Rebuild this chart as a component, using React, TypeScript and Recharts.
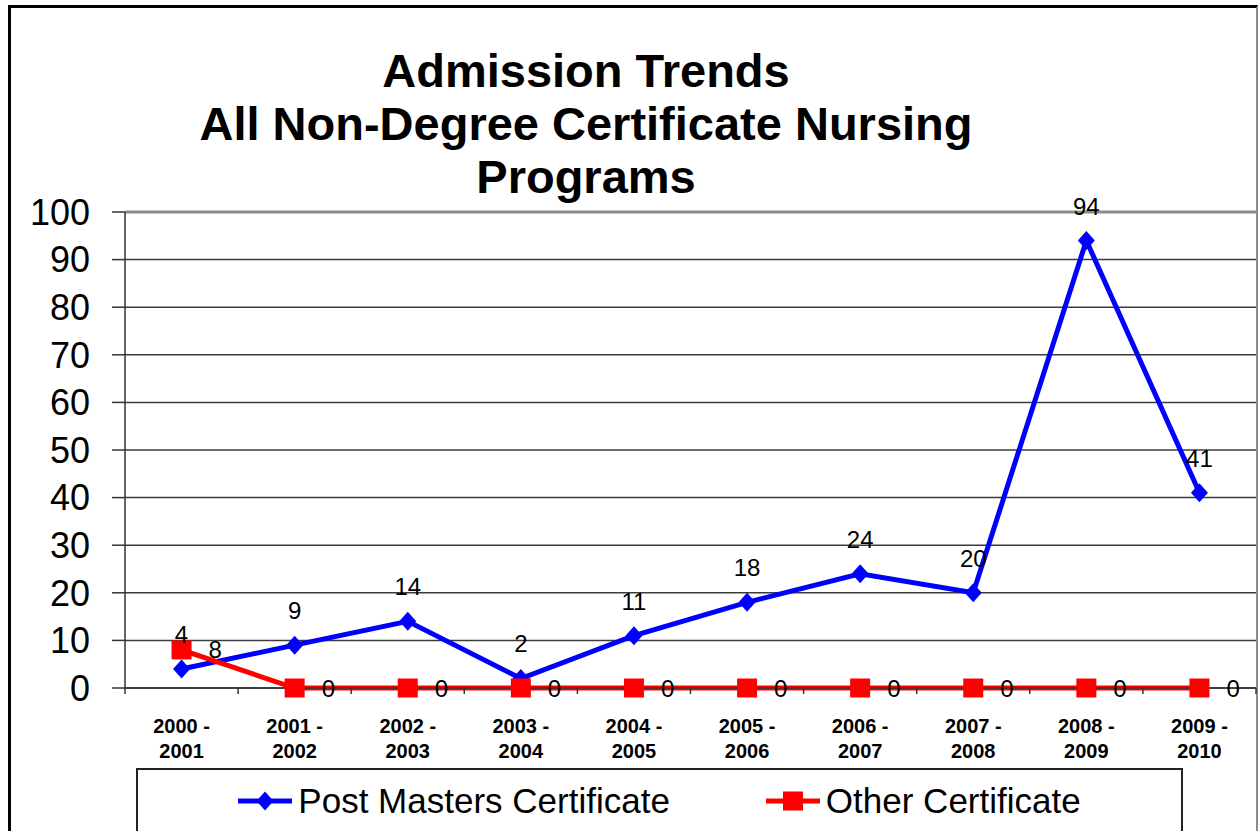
import React from "react";
import {
  LineChart,
  Line,
  XAxis,
  YAxis,
  CartesianGrid,
  Legend,
  LabelList,
  ReferenceLine,
} from "recharts";

const categories = [
  "2000 - 2001",
  "2001 - 2002",
  "2002 - 2003",
  "2003 - 2004",
  "2004 - 2005",
  "2005 - 2006",
  "2006 - 2007",
  "2007 - 2008",
  "2008 - 2009",
  "2009 - 2010",
];
const postMasters = [4, 9, 14, 2, 11, 18, 24, 20, 94, 41];
const otherCert = [8, 0, 0, 0, 0, 0, 0, 0, 0, 0];
const yTicks = [0, 10, 20, 30, 40, 50, 60, 70, 80, 90, 100];
const seriesOrder = ["post", "other"];
const titleLines = [
  "Admission Trends",
  "All Non-Degree Certificate Nursing",
  "Programs",
];

const data = categories.map((c, i) => ({
  cat: c,
  post: postMasters[i],
  other: otherCert[i],
}));

const FONT = '"Liberation Sans", Arial, sans-serif';
const BLUE = "#0000FF";
const RED = "#FF0000";

const Diamond = (props: any) => {
  const { cx, cy } = props;
  if (cx == null || cy == null) return null;
  return (
    <polygon
      points={`${cx},${cy - 9.5} ${cx + 8.5},${cy} ${cx},${cy + 9.5} ${cx - 8.5},${cy}`}
      fill={BLUE}
    />
  );
};

const Square = (props: any) => {
  const { cx, cy } = props;
  if (cx == null || cy == null) return null;
  return <rect x={cx - 10} y={cy - 9.5} width={20} height={19} fill={RED} />;
};

const XTick = (props: any) => {
  const { x, y, payload, width, visibleTicksCount, index } = props;
  const band = width / visibleTicksCount;
  const parts = String(payload.value).split(" - ");
  return (
    <g>
      <line x1={x - band / 2} x2={x - band / 2} y1={y} y2={y + 6} stroke="#333" strokeWidth={1.5} />
      {index === visibleTicksCount - 1 && (
        <line x1={x + band / 2} x2={x + band / 2} y1={y} y2={y + 6} stroke="#333" strokeWidth={1.5} />
      )}
      <text
        x={x}
        y={y + 45}
        textAnchor="middle"
        fontFamily={FONT}
        fontWeight="bold"
        fontSize={20}
        fill="#000"
      >
        {parts[0] + " -"}
      </text>
      <text
        x={x}
        y={y + 70}
        textAnchor="middle"
        fontFamily={FONT}
        fontWeight="bold"
        fontSize={20}
        fill="#000"
      >
        {parts[1]}
      </text>
    </g>
  );
};

const LegendContent = (props: any) => {
  const payload = [...(props.payload || [])].sort(
    (a: any, b: any) => seriesOrder.indexOf(a.dataKey) - seriesOrder.indexOf(b.dataKey)
  );
  return (
    <div
      style={{
        width: 1047,
        height: 70,
        boxSizing: "border-box",
        border: "2px solid #222",
        background: "#fff",
        display: "flex",
        justifyContent: "center",
        alignItems: "flex-start",
        gap: 96,
        paddingTop: 11,
      }}
    >
      {payload.map((p: any) => (
        <div key={p.value} style={{ display: "flex", alignItems: "center" }}>
          <svg width={54} height={24} style={{ marginRight: 6 }}>
            <line x1={0} x2={54} y1={12} y2={12} stroke={p.color} strokeWidth={5} />
            {p.dataKey === "post" ? (
              <polygon points="27,2.5 35.5,12 27,21.5 18.5,12" fill={p.color} />
            ) : (
              <rect x={17} y={2.5} width={20} height={19} fill={p.color} />
            )}
          </svg>
          <span
            style={{
              fontFamily: FONT,
              fontSize: 35,
              lineHeight: "40px",
              color: "#000",
              whiteSpace: "nowrap",
            }}
          >
            {p.value}
          </span>
        </div>
      ))}
    </div>
  );
};

export default function App() {
  return (
    <div
      style={{
        position: "absolute",
        left: 0,
        top: 0,
        width: 1258,
        height: 831,
        overflow: "hidden",
        background: "#fff",
      }}
    >
      <div
        style={{
          position: "absolute",
          left: 8,
          top: 5,
          width: 1250,
          height: 840,
          boxSizing: "border-box",
          borderTop: "3px solid #000",
          borderLeft: "3px solid #000",
          borderRight: "2px solid #8c8c8c",
        }}
      />
      <div
        style={{
          position: "absolute",
          left: 0,
          top: 44,
          width: 1172,
          textAlign: "center",
          fontFamily: FONT,
          fontWeight: "bold",
          fontSize: 47,
          lineHeight: "53px",
          color: "#000",
          zIndex: 2,
        }}
      >
        {titleLines.map((t) => (
          <div key={t}>{t}</div>
        ))}
      </div>
      <div style={{ position: "absolute", left: 0, top: 0 }}>
        <LineChart
          width={1258}
          height={831}
          data={data}
          margin={{ top: 212, right: 2, bottom: 0, left: 0 }}
        >
          <CartesianGrid vertical={false} stroke="#3c3c3c" strokeWidth={1.5} />
          <ReferenceLine y={100} stroke="#8c8c8c" strokeWidth={3} />
          <XAxis
            dataKey="cat"
            scale="band"
            interval={0}
            tickLine={false}
            tickSize={0}
            tickMargin={0}
            axisLine={{ stroke: "#333", strokeWidth: 1.5 }}
            tick={<XTick />}
            height={143}
          />
          <YAxis
            domain={[0, 100]}
            ticks={yTicks}
            interval={0}
            width={125}
            tickSize={13}
            tickMargin={22}
            axisLine={{ stroke: "#333", strokeWidth: 1.5 }}
            tickLine={{ stroke: "#333", strokeWidth: 1.5 }}
            tick={{ fontFamily: FONT, fontSize: 36, fill: "#000" }}
          />
          <Legend
            verticalAlign="middle"
            align="center"
            content={<LegendContent />}
            wrapperStyle={{ position: "absolute", left: 136, top: 768, width: 1047, height: 70 }}
          />
          <Line
            type="linear"
            dataKey="post"
            name="Post Masters Certificate"
            stroke={BLUE}
            strokeWidth={5}
            dot={<Diamond />}
            activeDot={false}
            isAnimationActive={false}
          >
            <LabelList
              dataKey="post"
              position="top"
              offset={26}
              fontFamily={FONT}
              fontSize={24}
              fill="#000"
            />
          </Line>
          <Line
            type="linear"
            dataKey="other"
            name="Other Certificate"
            stroke={RED}
            strokeWidth={5}
            dot={<Square />}
            activeDot={false}
            isAnimationActive={false}
          >
            <LabelList
              dataKey="other"
              position="right"
              offset={27}
              fontFamily={FONT}
              fontSize={24}
              fill="#000"
            />
          </Line>
        </LineChart>
      </div>
    </div>
  );
}
